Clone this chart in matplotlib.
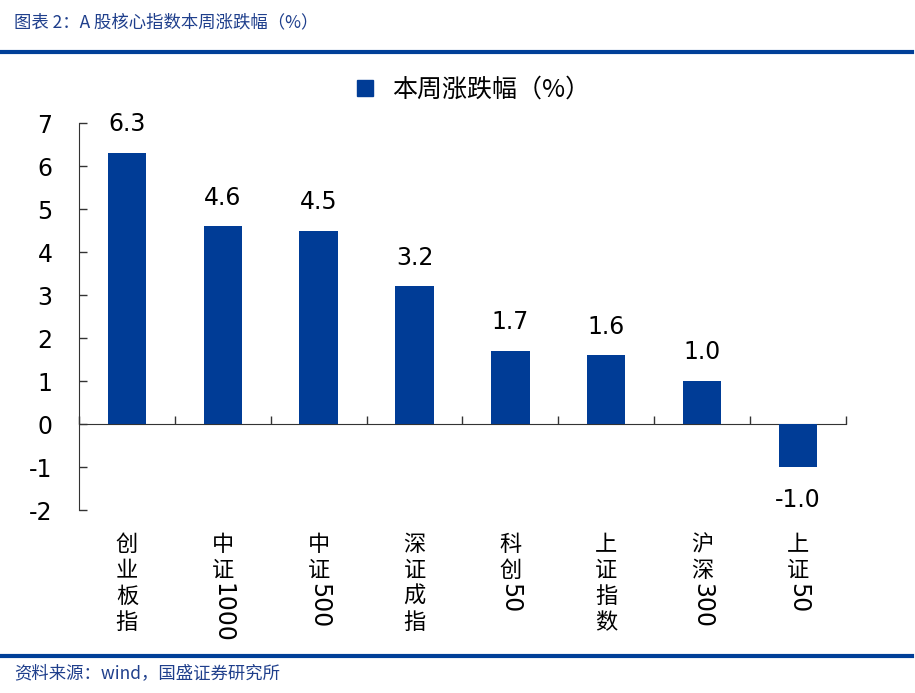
import numpy as np
import matplotlib.pyplot as plt
from matplotlib.transforms import offset_copy
from matplotlib.lines import Line2D

plt.rcParams['font.family'] = ['Noto Sans CJK SC', 'DejaVu Sans']

# data
cats_cn = ['创业板指', '中证', '中证', '深证成指', '科创', '上证指数', '沪深', '上证']
cats_num = ['', '1000', '500', '', '50', '', '300', '50']
values = [6.3, 4.6, 4.5, 3.2, 1.7, 1.6, 1.0, -1.0]
yticks = [-2, -1, 0, 1, 2, 3, 4, 5, 6, 7]

blue = '#003C96'
title_blue = '#1F3F8C'

fig = plt.figure(figsize=(9.15, 6.93), dpi=100)
ax = fig.add_axes([0.0863, 0.264, 0.8383, 0.5585])

x = np.arange(len(values))
ax.bar(x, values, width=0.4, color=blue, label='本周涨跌幅（%）', zorder=3)

# value labels
for xi, v in zip(x, values):
    if v >= 0:
        ax.annotate('%.1f' % v, (xi, v), xytext=(0, 12), textcoords='offset points',
                    ha='center', va='bottom', fontsize=17, family='DejaVu Sans')
    else:
        ax.annotate('%.1f' % v, (xi, v), xytext=(0, -15), textcoords='offset points',
                    ha='center', va='top', fontsize=17, family='DejaVu Sans')

ax.set_xlim(-0.5, len(values) - 0.5)
ax.set_ylim(-2, 7)
ax.set_yticks(yticks)
ax.set_yticklabels([str(t) for t in yticks], family='DejaVu Sans', fontsize=17)
ax.tick_params(axis='y', direction='in', length=6, width=1, pad=19, colors='#333333', labelcolor='black')

ax.spines['top'].set_visible(False)
ax.spines['right'].set_visible(False)
ax.spines['bottom'].set_position(('data', 0))
ax.spines['bottom'].set_color('#333333')
ax.spines['left'].set_color('#333333')

ax.set_xticks(np.arange(len(values) + 1) - 0.5)
ax.set_xticklabels([])
ax.tick_params(axis='x', direction='in', length=6, width=1, colors='#333333')

# vertical category labels
base = ax.get_xaxis_transform()
for xi, cn, num in zip(x, cats_cn, cats_num):
    dy = 23
    for ch in cn:
        tr = offset_copy(base, fig=fig, x=0, y=-dy * 0.72, units='points')
        ax.text(xi, 0, ch, transform=tr, ha='center', va='top', fontsize=16)
        dy += 26
    if num:
        tr = offset_copy(base, fig=fig, x=0, y=-(dy - 2) * 0.72, units='points')
        ax.text(xi, 0, num, transform=tr, ha='center', va='top', rotation=-90,
                fontsize=17, family='DejaVu Sans')

# legend
handle = Line2D([], [], marker='s', linestyle='none', markersize=11, color=blue)
fig.legend([handle], ['本周涨跌幅（%）'], loc='center', bbox_to_anchor=(0.508, 0.87),
           frameon=False, fontsize=18, handletextpad=0.1, borderaxespad=0)

# title and footer
fig.text(0.015, 0.968, '图表 2：A 股核心指数本周涨跌幅（%）', color=title_blue,
         fontsize=12.5, ha='left', va='center')
fig.add_artist(Line2D([0.002, 0.997], [0.925, 0.925], transform=fig.transFigure,
                      color='#003F98', linewidth=3))
fig.add_artist(Line2D([0.002, 0.997], [0.053, 0.053], transform=fig.transFigure,
                      color='#003F98', linewidth=3))
fig.text(0.015, 0.028, '资料来源：wind，国盛证券研究所', color=title_blue,
         fontsize=12.5, ha='left', va='center')

fig.savefig('out.png', dpi=100)
